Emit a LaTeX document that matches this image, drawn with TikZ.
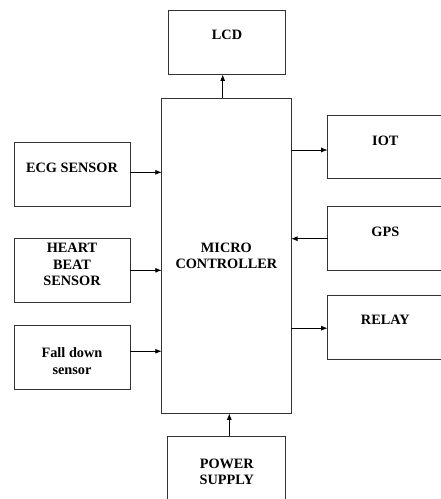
\documentclass[tikz,border=0pt]{standalone}
\usepackage{fontspec}
\setmainfont{Liberation Serif}
\usetikzlibrary{arrows.meta,positioning,calc}

\begin{document}
\begin{tikzpicture}[x=1pt,y=-1pt,font=\fontsize{14.3}{16.5}\selectfont\bfseries,
    blk/.style={draw=black!80,line width=1pt,align=center,
                inner sep=0pt,outer sep=0pt},
    oneline/.style={text height=9pt,text depth=13.5pt},
    sig/.style={line width=0.9pt,-{Latex[length=6.5pt,width=5pt]}}]
  \clip (0,0) rectangle (441,499);
  % controller in the middle
  \node[blk,minimum width=129.3pt,minimum height=315pt] (mc) at (226.4,255.8)
    {MICRO\\CONTROLLER};
  \node[blk,oneline,minimum width=117.4pt,minimum height=64.3pt] (lcd) at (227,42.2) {LCD};
  \node[blk,minimum width=117.7pt,minimum height=72pt] (psu) at (226.8,472)
    {POWER\\SUPPLY};
  % sensors on the left
  \node[blk,oneline,minimum width=116pt,minimum height=64.4pt] (ecg) at (72,174.5)
    {ECG SENSOR};
  \node[blk,text depth=12pt,minimum width=116pt,minimum height=64pt,below=31.6pt of ecg] (heart)
    {HEART\\BEAT\\SENSOR};
  \node[blk,text height=34.5pt,minimum width=116pt,minimum height=64.3pt,below=22.7pt of heart] (fall)
    {Fall down\\sensor};
  % modules on the right
  \node[blk,oneline,minimum width=115.3pt,minimum height=63.3pt] (iot) at (385.3,147.3) {IOT};
  \node[blk,oneline,minimum width=115.3pt,minimum height=64pt] (gps) at (385.3,238.7) {GPS};
  \node[blk,oneline,minimum width=115.3pt,minimum height=64.3pt] (relay) at (385.3,327.2) {RELAY};
  % connections
  \draw[sig] ($(mc.north)+(-3.7,0)$) -- ($(lcd.south)+(-4.3,0)$);
  \draw[sig] ($(psu.north)+(2.5,0)$) -- ($(mc.south -| psu.north)+(2.5,0)$);
  \draw[sig] ($(ecg.east)+(0,-2.2)$) -- ($(ecg.east -| mc.west)+(0,-2.2)$);
  \draw[sig] (heart.east) -- (heart.east -| mc.west);
  \draw[sig] ($(fall.east)+(0,-5.9)$) -- ($(fall.east -| mc.west)+(0,-5.9)$);
  \draw[sig] ($(iot.west -| mc.east)+(0,2.7)$) -- ($(iot.west)+(0,2.7)$);
  \draw[sig] (gps.west) -- (gps.west -| mc.east);
  \draw[sig] ($(relay.west -| mc.east)+(0,1)$) -- ($(relay.west)+(0,1)$);
\end{tikzpicture}
\end{document}
